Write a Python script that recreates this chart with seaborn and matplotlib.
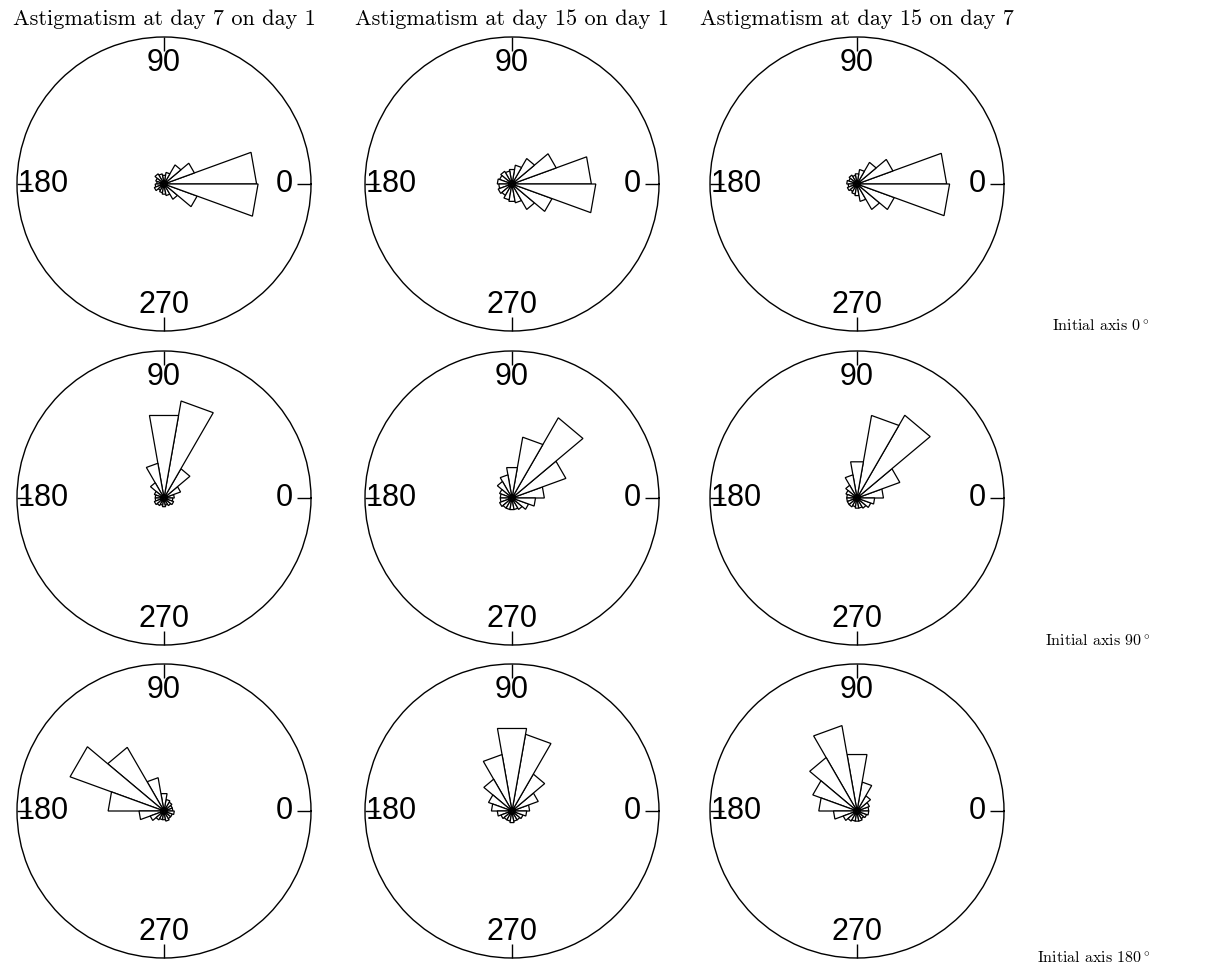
import numpy as np
import pandas as pd
import matplotlib
matplotlib.use("Agg")
import matplotlib.pyplot as plt
import seaborn as sns

# Rose diagrams: 20 degree bins, radius as fraction of the outer circle
bin_centers = [10, 30, 50, 70, 90, 110, 130, 150, 170, 190, 210, 230, 250, 270, 290, 310, 330, 350]
bin_width = 20

comparisons = ["Astigmatism at day 7 on day 1",
               "Astigmatism at day 15 on day 1",
               "Astigmatism at day 15 on day 7"]
initial_axes = ["Initial axis 0°", "Initial axis 90°", "Initial axis 180°"]

# initial axis 0
ax0_d7_d1 = [0.63, 0.22, 0.15, 0.08, 0.06, 0.07, 0.08, 0.06, 0.05, 0.06, 0.07, 0.05, 0.06, 0.07, 0.08, 0.12, 0.24, 0.64]
ax0_d15_d1 = [0.54, 0.32, 0.20, 0.13, 0.10, 0.09, 0.10, 0.09, 0.10, 0.09, 0.10, 0.09, 0.11, 0.12, 0.13, 0.20, 0.29, 0.57]
ax0_d15_d7 = [0.61, 0.26, 0.17, 0.10, 0.07, 0.06, 0.07, 0.06, 0.07, 0.06, 0.07, 0.06, 0.07, 0.08, 0.12, 0.20, 0.27, 0.63]
# initial axis 90
ax90_d7_d1 = [0.07, 0.12, 0.23, 0.67, 0.57, 0.24, 0.12, 0.07, 0.06, 0.06, 0.07, 0.06, 0.05, 0.06, 0.05, 0.06, 0.07, 0.06]
ax90_d15_d1 = [0.22, 0.39, 0.63, 0.42, 0.21, 0.16, 0.13, 0.09, 0.08, 0.08, 0.09, 0.08, 0.08, 0.08, 0.08, 0.09, 0.12, 0.16]
ax90_d15_d7 = [0.18, 0.31, 0.65, 0.57, 0.25, 0.16, 0.10, 0.08, 0.07, 0.07, 0.07, 0.07, 0.06, 0.07, 0.07, 0.08, 0.10, 0.12]
# initial axis 180
ax180_d7_d1 = [0.06, 0.06, 0.07, 0.08, 0.12, 0.23, 0.50, 0.68, 0.38, 0.17, 0.10, 0.07, 0.06, 0.06, 0.07, 0.06, 0.06, 0.07]
ax180_d15_d1 = [0.12, 0.19, 0.29, 0.53, 0.57, 0.39, 0.25, 0.17, 0.14, 0.10, 0.08, 0.07, 0.07, 0.08, 0.07, 0.07, 0.08, 0.10]
ax180_d15_d7 = [0.08, 0.09, 0.12, 0.20, 0.39, 0.59, 0.42, 0.32, 0.26, 0.16, 0.10, 0.08, 0.07, 0.07, 0.07, 0.06, 0.07, 0.08]

panels = {
    (initial_axes[0], comparisons[0]): ax0_d7_d1,
    (initial_axes[0], comparisons[1]): ax0_d15_d1,
    (initial_axes[0], comparisons[2]): ax0_d15_d7,
    (initial_axes[1], comparisons[0]): ax90_d7_d1,
    (initial_axes[1], comparisons[1]): ax90_d15_d1,
    (initial_axes[1], comparisons[2]): ax90_d15_d7,
    (initial_axes[2], comparisons[0]): ax180_d7_d1,
    (initial_axes[2], comparisons[1]): ax180_d15_d1,
    (initial_axes[2], comparisons[2]): ax180_d15_d7,
}

rows = []
for (init, comp), radii in panels.items():
    for c, r in zip(bin_centers, radii):
        rows.append({"initial": init, "comparison": comp, "angle": c, "radius": r})
df = pd.DataFrame(rows)

sns.set_style("white")
plt.rcParams["font.family"] = ["cmr10", "DejaVu Serif"]
plt.rcParams["mathtext.fontset"] = "cm"
plt.rcParams["axes.formatter.use_mathtext"] = True
plt.rcParams["text.color"] = "black"
plt.rcParams["xtick.color"] = "black"
plt.rcParams["xtick.labelcolor"] = "black"


def draw_rose(data, color=None, **kws):
    # each bin drawn as a triangle (straight outer edge, like R's rose.diag)
    ax = plt.gca()
    for a, r in zip(data["angle"], data["radius"]):
        t0 = np.deg2rad(a - bin_width / 2)
        t1 = np.deg2rad(a + bin_width / 2)
        ax.fill([t0, t0, t1], [0, r, r], facecolor="white",
                edgecolor="black", linewidth=0.9)


g = sns.FacetGrid(df, row="initial", col="comparison",
                  row_order=initial_axes, col_order=comparisons,
                  subplot_kws=dict(projection="polar"),
                  sharex=False, sharey=False, despine=False, height=3)
g.map_dataframe(draw_rose)

fig = g.figure
fig.set_size_inches(12.05, 9.71)

W, H = 1205, 971
R = 147
col_cx = [164, 512, 857]
row_cy = [184, 498, 811]

for i in range(3):
    for j in range(3):
        ax = g.axes[i, j]
        ax.set_position([(col_cx[j] - R) / W, 1 - (row_cy[i] + R) / H, 2 * R / W, 2 * R / H])
        ax.set_title("")
        ax.set_ylim(0, 1)
        ax.set_yticks([])
        ax.grid(False)
        ax.set_xlabel("")
        ax.set_ylabel("")
        ax.set_xticks(np.deg2rad([0, 90, 180, 270]), ["0", "90", "180", "270"],
                      fontsize=22, fontfamily="Liberation Sans")
        ax.tick_params(axis="x", bottom=False, top=True, direction="in",
                       length=10, width=1, pad=-26, colors="black")
        ax.spines["polar"].set_linewidth(1.0)
        ax.spines["polar"].set_color("black")
        if i == 0:
            ax.set_title(comparisons[j], fontsize=16, pad=8.5)

label_y = [326, 641, 958]
for i, lab in enumerate(initial_axes):
    fig.text(1150 / W, 1 - label_y[i] / H, lab.replace("°", r"$^\circ$"),
             ha="right", va="center", fontsize=11.5)

fig.savefig("out.png", dpi=100)
